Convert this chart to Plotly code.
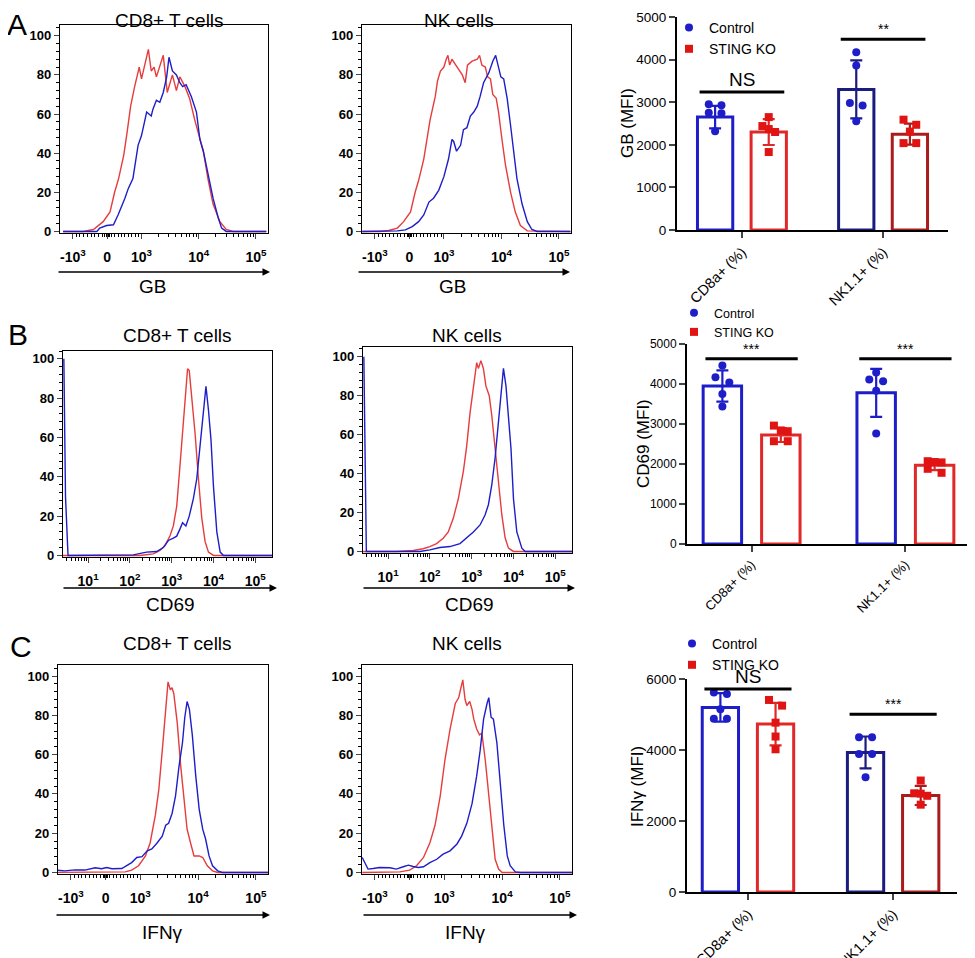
import numpy as np
import plotly.graph_objects as go

W, H = 975, 958
PAGE = 8  # the html body margin shifts the figure by this many px
FONT = "Liberation Sans, Arial, sans-serif"
RED = "rgb(230,60,60)"
BLUE = "rgb(30,30,200)"

# ---- flow histograms ----
# x in cytometer display units (3 -> 10^3, 4 -> 10^4, ...; logicle zone below 10^3)
# y in % of max
gb_cd8_ko_x = [1.63, 1.98, 2.16, 2.33, 2.45, 2.53, 2.60, 2.69, 2.75, 2.81, 2.88, 2.96, 3.00, 3.04, 3.12, 3.17,
               3.22, 3.26, 3.38, 3.45, 3.54, 3.61, 3.67, 3.76, 3.84, 3.93, 4.08, 4.16, 4.25, 4.37, 4.48, 4.60, 5.18]
gb_cd8_ko_y = [0, 0, 1, 5, 10, 20, 27, 39, 51, 64, 74, 84, 78, 83, 93, 82,
               84, 79, 90, 71, 80, 72, 79, 74, 68, 57, 41, 27, 14, 5, 1, 0, 0]
gb_cd8_ctrl_x = [1.63, 2.22, 2.27, 2.39, 2.51, 2.59, 2.71, 2.77, 2.85, 2.94, 3.00, 3.09, 3.13, 3.17, 3.20, 3.26,
                 3.32, 3.38, 3.44, 3.48, 3.54, 3.61, 3.67, 3.72, 3.78, 3.87, 3.96, 4.02, 4.08, 4.16, 4.25, 4.34,
                 4.40, 4.48, 5.18]
gb_cd8_ctrl_y = [0, 0, 1.7, 3, 3.4, 8.4, 17, 22, 27, 44, 49, 61, 60, 59, 62.5, 67,
                 66, 71, 79, 89, 82, 80, 76, 74, 75, 69, 61, 47, 41, 29, 17, 7,
                 1.7, 0, 0]
gb_nk_ko_x = [1.58, 1.89, 2.04, 2.19, 2.30, 2.42, 2.50, 2.56, 2.65, 2.71, 2.76, 2.85, 2.89, 2.94, 3.00, 3.04,
              3.07, 3.10, 3.14, 3.23, 3.32, 3.37, 3.41, 3.49, 3.58, 3.62, 3.66, 3.72, 3.76, 3.81, 3.85, 3.91,
              3.95, 4.01, 4.07, 4.16, 4.24, 4.33, 4.45, 5.20]
gb_nk_ko_y = [0, 0, 0.5, 1.7, 5, 10, 20, 26, 37, 47, 57, 69, 77, 82, 84, 88,
              90, 85, 88, 84, 80, 76, 85, 87, 88, 90, 85, 84, 79, 78, 70, 68,
              61, 47, 34, 20, 10, 3, 0.3, 0]
gb_nk_ctrl_x = [1.58, 1.89, 2.19, 2.33, 2.45, 2.56, 2.65, 2.74, 2.82, 2.91, 3.00, 3.08, 3.14, 3.17, 3.22, 3.29,
                3.34, 3.40, 3.46, 3.52, 3.58, 3.63, 3.69, 3.78, 3.85, 3.90, 3.95, 3.99, 4.04, 4.10, 4.16, 4.21,
                4.27, 4.36, 4.45, 4.53, 4.62, 5.20]
gb_nk_ctrl_y = [0, 0, 0.3, 0.8, 2.5, 5, 8.4, 15, 17, 21, 28, 37, 47, 46, 41, 44,
                52, 53, 59, 61, 64, 69, 76, 81, 87, 90, 84, 79, 78, 68, 54, 41,
                27, 14, 5, 1, 0, 0]

cd69_cd8_ko_x = [0.40, 2.24, 2.56, 2.72, 2.84, 2.96, 3.04, 3.12, 3.20, 3.26, 3.32, 3.38, 3.42, 3.48, 3.56, 3.64,
                 3.72, 3.80, 3.88, 4.00, 5.40]
cd69_cd8_ko_y = [0, 0, 0.8, 2.5, 5, 10, 15, 25, 46, 62, 79, 95, 94, 81, 62, 39,
                 19, 7, 1.7, 0, 0]
cd69_cd8_ctrl_x = [0.42, 0.46, 0.52, 1.84, 2.08, 2.40, 2.64, 2.80, 2.92, 3.04, 3.12, 3.20, 3.26, 3.34, 3.42, 3.52,
                   3.60, 3.68, 3.76, 3.82, 3.88, 3.94, 4.00, 4.08, 4.16, 4.24, 5.40]
cd69_cd8_ctrl_y = [100, 30, 0, 0, 0.3, 1.7, 2, 4, 7.6, 8.8, 9.8, 13.5, 16.6, 15, 20, 29,
                   39, 56, 73, 86, 74, 59, 35, 12, 1.7, 0, 0]
cd69_nk_ko_x = [0.40, 1.20, 1.60, 1.84, 2.00, 2.16, 2.32, 2.44, 2.56, 2.68, 2.80, 2.88, 2.96, 3.04, 3.12, 3.16,
                3.22, 3.28, 3.34, 3.42, 3.48, 3.56, 3.64, 3.72, 3.80, 3.88, 4.00, 5.40]
cd69_nk_ko_y = [0, 0, 0.5, 1.4, 2.5, 4, 6.8, 10, 17, 27, 41, 54, 71, 85, 97, 94,
                98, 94, 85, 80, 70, 53, 34, 19, 7, 1.7, 0, 0]
cd69_nk_ctrl_x = [0.42, 0.45, 0.48, 1.76, 2.00, 2.24, 2.48, 2.72, 2.88, 3.04, 3.20, 3.32, 3.40, 3.48, 3.56, 3.64,
                  3.70, 3.76, 3.82, 3.88, 3.94, 4.00, 4.08, 4.20, 4.28, 5.40]
cd69_nk_ctrl_y = [100, 30, 0, 0, 0.8, 2, 2.5, 4, 6.8, 10, 13.6, 18.7, 24, 34, 48, 65,
                  78, 94, 85, 70, 53, 27, 10, 1.7, 0, 0]

ifng_cd8_ko_x = [1.55, 2.62, 2.74, 2.85, 2.97, 3.09, 3.17, 3.26, 3.32, 3.38, 3.44, 3.48, 3.52, 3.55, 3.58, 3.64,
                 3.70, 3.76, 3.81, 3.87, 3.93, 4.02, 4.08, 4.16, 4.25, 4.34, 5.21]
ifng_cd8_ko_y = [0, 0, 0.3, 1.2, 3.4, 8.4, 15, 29, 42, 62, 83, 97, 93, 94, 91, 76,
                 54, 35, 22, 15, 8.4, 8.4, 7.6, 3.4, 0.8, 0, 0]
ifng_cd8_ctrl_x = [1.55, 1.69, 1.87, 2.04, 2.22, 2.33, 2.42, 2.51, 2.68, 2.77, 2.85, 2.94, 3.03, 3.12, 3.20, 3.29,
                   3.38, 3.44, 3.49, 3.55, 3.61, 3.67, 3.73, 3.77, 3.81, 3.85, 3.90, 3.96, 4.02, 4.08, 4.13, 4.19,
                   4.25, 4.34, 4.42, 5.21]
ifng_cd8_ctrl_y = [1.2, 0.8, 1.3, 1.2, 2.4, 1.9, 2.5, 1.9, 2, 3.4, 5, 7.6, 8, 11, 12, 15,
                   18.5, 24, 25, 30, 39, 54, 66, 79, 87, 83, 70, 49, 32, 22, 17, 8.4,
                   3.4, 0.8, 0, 0]
ifng_nk_ko_x = [1.58, 2.12, 2.23, 2.40, 2.52, 2.64, 2.75, 2.84, 2.93, 3.01, 3.10, 3.19, 3.25, 3.28, 3.32, 3.36,
                3.39, 3.44, 3.48, 3.51, 3.56, 3.61, 3.65, 3.71, 3.77, 3.83, 3.88, 3.94, 4.00, 5.21]
ifng_nk_ko_y = [0, 0, 0.3, 1.2, 3.4, 7.6, 15, 24, 39, 57, 73, 86, 89, 93, 98, 88,
                85, 87, 83, 78, 73, 70, 71, 57, 39, 19, 6.7, 1.7, 0, 0]
ifng_nk_ctrl_x = [1.58, 1.62, 1.68, 1.77, 1.88, 2.06, 2.17, 2.29, 2.38, 2.46, 2.55, 2.64, 2.75, 2.87, 2.98, 3.10,
                  3.22, 3.30, 3.39, 3.48, 3.56, 3.62, 3.68, 3.74, 3.77, 3.81, 3.85, 3.91, 3.97, 4.03, 4.09, 4.14,
                  4.23, 4.32, 5.21]
ifng_nk_ctrl_y = [7.6, 5, 1.7, 2, 2.5, 2.4, 1.7, 2.9, 3.7, 3, 2.5, 2.9, 5, 6.7, 9.3, 11,
                  14.5, 18.5, 25, 35, 49, 62, 78, 86, 89, 79, 78, 66, 46, 24, 8.4, 3.4,
                  0.3, 0, 0]

# ---- MFI bar charts ----
groups = ["CD8a+ (%)", "NK1.1+ (%)"]
legend_names = ["Control", "STING KO"]

gb_ctrl_mean = [2650, 3300]
gb_ctrl_sd = [265, 680]
gb_ctrl_pts = [[2950, 2930, 2750, 2740, 2320], [4170, 3860, 2980, 2920, 2550]]
gb_ko_mean = [2300, 2250]
gb_ko_sd = [305, 245]
gb_ko_pts = [[2650, 2440, 2370, 2300, 1830], [2590, 2470, 2310, 2040, 2040]]
gb_sig_y = [3240, 4480]
gb_sig = ["NS", "**"]

cd69_ctrl_mean = [3950, 3780]
cd69_ctrl_sd = [390, 600]
cd69_ctrl_pts = [[4460, 4170, 4040, 3750, 3440], [4290, 4110, 4070, 3830, 2760]]
cd69_ko_mean = [2725, 1970]
cd69_ko_sd = [175, 125]
cd69_ko_pts = [[2960, 2840, 2820, 2570, 2570], [2070, 2050, 2040, 1880, 1780]]
cd69_sig_y = [4630, 4630]
cd69_sig = ["***", "***"]

ifng_ctrl_mean = [5200, 3930]
ifng_ctrl_sd = [400, 450]
ifng_ctrl_pts = [[5620, 5580, 5150, 4880, 4880], [4360, 4360, 3890, 3890, 3230]]
ifng_ko_mean = [4730, 2720]
ifng_ko_sd = [600, 270]
ifng_ko_pts = [[5410, 5250, 4770, 4380, 4020], [3140, 2780, 2770, 2710, 2460]]
ifng_sig_y = [5720, 5010]
ifng_sig = ["NS", "***"]


def fx(px):
    return (px - PAGE) / W


def fy(py):
    return 1 - (py - PAGE) / H


def xdom(a, b):
    return [fx(a), fx(b)]


def ydom(top, bottom):
    return [fy(bottom), fy(top)]


def ax(n, kind):
    return kind if n == 1 else f"{kind}{n}"


fig = go.Figure()
annotations = []
shapes = []


def ann(text, x, y, size, bold=False, **kw):
    annotations.append(dict(text=text, x=fx(x), y=fy(y), xref="paper", yref="paper",
                            xanchor="center", yanchor="middle", showarrow=False,
                            font=dict(family=FONT, size=size, color="black",
                                      weight="bold" if bold else "normal"), **kw))


def arrow(x0, x1, y):
    annotations.append(dict(text="", x=fx(x1), y=fy(y), xref="paper", yref="paper",
                            showarrow=True, ax=-(x1 - x0), ay=0, arrowhead=2, arrowsize=1,
                            arrowwidth=1.5, arrowcolor="black"))


logicle_ticks = [1.80, 2.40, 3, 4, 5]
logicle_text = ["-10<sup>3</sup>", "0", "10<sup>3</sup>", "10<sup>4</sup>", "10<sup>5</sup>"]
logicle_minor = list(np.arange(1.86, 2.38, 0.065)) + list(np.arange(2.36, 2.44, 0.02)) + \
    list(np.arange(2.47, 2.97, 0.06)) + [d + np.log10(k) for d in (3, 4) for k in range(2, 10)]
log_ticks = [1, 2, 3, 4, 5]
log_text = [f"10<sup>{d}</sup>" for d in log_ticks]
log_minor = [d + np.log10(k) for d in range(0, 5) for k in range(2, 10) if 0.45 < d + np.log10(k) < 5.35]


def hist(n, xd, yd, kind, ko, ctrl, ytop):
    for (xs, ys), col in ((ko, RED), (ctrl, BLUE)):
        fig.add_trace(go.Scatter(x=xs, y=ys, mode="lines", line=dict(color=col, width=1.4),
                                 showlegend=False, xaxis=ax(n, "x"), yaxis=ax(n, "y")))
    if kind == "logicle":
        xr, tv, tt, mv = [1.576, 5.21], logicle_ticks, logicle_text, logicle_minor
    else:
        xr, tv, tt, mv = [0.4, 5.4], log_ticks, log_text, log_minor
    tf = dict(family=FONT, size=13, color="black", weight="bold")
    fig.update_layout({
        ax(n, "xaxis"): dict(domain=xdom(*xd), anchor=ax(n, "y"), range=xr, tickmode="array",
                             tickvals=tv, ticktext=tt, ticks="outside", ticklen=5, tickwidth=1.3,
                             ticklabelstandoff=6,
                             showline=True, mirror=True, linecolor="black", linewidth=1.3,
                             showgrid=False, zeroline=False, tickfont=dict(tf, size=14),
                             minor=dict(tickmode="array", tickvals=mv, ticks="outside", ticklen=3,
                                        tickcolor="black", tickwidth=1)),
        ax(n, "yaxis"): dict(domain=ydom(*yd), anchor=ax(n, "x"), range=[-0.8, ytop],
                             tickmode="array", tickvals=[0, 20, 40, 60, 80, 100],
                             ticks="outside", ticklen=5, tickwidth=1.3, showline=True, mirror=True,
                             linecolor="black", linewidth=1.3, showgrid=False, zeroline=False,
                             tickfont=tf,
                             minor=dict(dtick=4, ticks="outside", ticklen=3, tickcolor="black",
                                        tickwidth=1)),
    })


def swarm(vals, span, step=0.045, thr=0.03):
    offs, i = [], 0
    while i < len(vals):
        j = i + 1
        while j < len(vals) and abs(vals[j] - vals[j - 1]) < thr * span:
            j += 1
        k = j - i
        offs += [(m - (k - 1) / 2) * step * (2 if k == 2 else 1) for m in range(k)]
        i = j
    return offs


OFF, BAR_W = 0.19, 0.25


def bars(n, xd, yd, xr, ymax, dtick, ctrl, ko, colors, sig_y, sig, leg, tick_size):
    xa, ya = ax(n, "x"), ax(n, "y")
    for gi in range(2):
        for si, (mean, sd, _) in enumerate((ctrl, ko)):
            c = colors[gi][si]
            fig.add_trace(go.Bar(x=[gi + (2 * si - 1) * OFF], y=[mean[gi]], width=BAR_W,
                                 marker=dict(color="white", line=dict(color=c, width=3)),
                                 error_y=dict(type="data", array=[sd[gi]], color=c, thickness=2.2, width=6),
                                 showlegend=False, xaxis=xa, yaxis=ya))
    for si, (_, _, pts) in enumerate((ctrl, ko)):
        px_, py_ = [], []
        for gi in range(2):
            for v, o in zip(pts[gi], swarm(pts[gi], ymax)):
                px_.append(gi + (2 * si - 1) * OFF + o)
                py_.append(v)
        fig.add_trace(go.Scatter(x=px_, y=py_, mode="markers", name=legend_names[si],
                                 marker=dict(symbol="circle" if si == 0 else "square", size=8,
                                             color=BLUE if si == 0 else "rgb(225,20,20)"),
                                 legend=leg, xaxis=xa, yaxis=ya))
    for gi in range(2):
        shapes.append(dict(type="line", xref=xa, yref=ya, x0=gi - 0.3, x1=gi + 0.3,
                           y0=sig_y[gi], y1=sig_y[gi], line=dict(color="black", width=3)))
        annotations.append(dict(text=sig[gi], x=gi, y=sig_y[gi], xref=xa, yref=ya, showarrow=False,
                                xanchor="center", yanchor="bottom",
                                font=dict(family=FONT, size=19 if sig[gi] == "NS" else 14, color="black")))
    fig.update_layout({
        ax(n, "xaxis"): dict(domain=xdom(*xd), anchor=ya, range=xr, tickmode="array", tickvals=[0, 1],
                             ticktext=groups, tickangle=-45, ticks="outside", ticklen=6, tickwidth=2,
                             showline=True, linecolor="black", linewidth=2, showgrid=False, zeroline=False,
                             tickfont=dict(family=FONT, size=tick_size + 1, color="black")),
        ax(n, "yaxis"): dict(domain=ydom(*yd), anchor=xa, range=[0, ymax], dtick=dtick, ticks="outside",
                             ticklen=6, tickwidth=2, showline=True, linecolor="black", linewidth=2,
                             showgrid=False, zeroline=False,
                             tickfont=dict(family=FONT, size=tick_size, color="black")),
    })


A_COLS = [[BLUE, "rgb(225,40,40)"], ["rgb(28,28,128)", "rgb(170,28,28)"]]
B_COLS = [[BLUE, "rgb(225,40,40)"], [BLUE, "rgb(225,40,40)"]]

# row A
hist(1, (60, 268), (25, 233), "logicle", (gb_cd8_ko_x, gb_cd8_ko_y), (gb_cd8_ctrl_x, gb_cd8_ctrl_y), 105.5)
hist(2, (362, 571), (25, 233), "logicle", (gb_nk_ko_x, gb_nk_ko_y), (gb_nk_ctrl_x, gb_nk_ctrl_y), 105.5)
bars(3, (677, 948), (17, 230), [-0.46, 1.46], 5000, 1000,
     (gb_ctrl_mean, gb_ctrl_sd, gb_ctrl_pts), (gb_ko_mean, gb_ko_sd, gb_ko_pts), A_COLS,
     gb_sig_y, gb_sig, "legend", 13.5)
# row B
hist(4, (63, 272), (351, 557), "log", (cd69_cd8_ko_x, cd69_cd8_ko_y), (cd69_cd8_ctrl_x, cd69_cd8_ctrl_y), 104)
hist(5, (363, 572), (347, 553), "log", (cd69_nk_ko_x, cd69_nk_ko_y), (cd69_nk_ctrl_x, cd69_nk_ctrl_y), 105)
bars(6, (687, 970), (344, 544), [-0.42, 1.42], 5000, 1000,
     (cd69_ctrl_mean, cd69_ctrl_sd, cd69_ctrl_pts), (cd69_ko_mean, cd69_ko_sd, cd69_ko_pts), B_COLS,
     cd69_sig_y, cd69_sig, "legend2", 12)
# row C
hist(7, (58, 268), (665, 874), "logicle", (ifng_cd8_ko_x, ifng_cd8_ko_y), (ifng_cd8_ctrl_x, ifng_cd8_ctrl_y), 105.6)
hist(8, (362, 572), (665, 874), "logicle", (ifng_nk_ko_x, ifng_nk_ko_y), (ifng_nk_ctrl_x, ifng_nk_ctrl_y), 105.6)
bars(9, (687, 957), (679, 892), [-0.42, 1.44], 6000, 2000,
     (ifng_ctrl_mean, ifng_ctrl_sd, ifng_ctrl_pts), (ifng_ko_mean, ifng_ko_sd, ifng_ko_pts), A_COLS,
     ifng_sig_y, ifng_sig, "legend3", 13.5)

# panel letters, titles, axis labels
for letter, x, y in (("A", 17, 25), ("B", 18, 335), ("C", 21, 646)):
    ann(letter, x, y, 30)
for text, x, y in (("CD8+ T cells", 169, 20), ("NK cells", 459, 20),
                   ("CD8+ T cells", 177, 336), ("NK cells", 467, 336),
                   ("CD8+ T cells", 177, 643), ("NK cells", 467, 643)):
    ann(text, x, y, 19)
for text, x, y in (("GB", 152, 286), ("GB", 452, 286), ("CD69", 170, 604), ("CD69", 469, 604),
                   ("IFNγ", 162, 932), ("IFNγ", 465, 932)):
    ann(text, x, y, 19)
for x0, x1, y in ((57, 270, 272), (357, 570, 272), (62, 277, 588), (362, 575, 588),
                  (55, 270, 915), (362, 577, 915)):
    arrow(x0, x1, y)
for text, x, y in (("GB (MFI)", 627, 123), ("CD69 (MFI)", 643, 444), ("IFNγ (MFI)", 637, 787)):
    ann(text, x, y, 17, textangle=-90)

leg_common = dict(xanchor="left", yanchor="top", bgcolor="rgba(0,0,0,0)", itemclick=False,
                  tracegroupgap=0)
fig.update_layout(
    width=W, height=H, margin=dict(l=0, r=0, t=0, b=0, autoexpand=False),
    paper_bgcolor="white", plot_bgcolor="white", barmode="overlay",
    annotations=annotations, shapes=shapes,
    legend=dict(x=fx(669), y=fy(12), font=dict(family=FONT, size=14, color="black"), **leg_common),
    legend2=dict(x=fx(674), y=fy(298), font=dict(family=FONT, size=12.5, color="black"), **leg_common),
    legend3=dict(x=fx(672), y=fy(628), font=dict(family=FONT, size=14, color="black"), **leg_common),
)
fig.write_html("out.html")
